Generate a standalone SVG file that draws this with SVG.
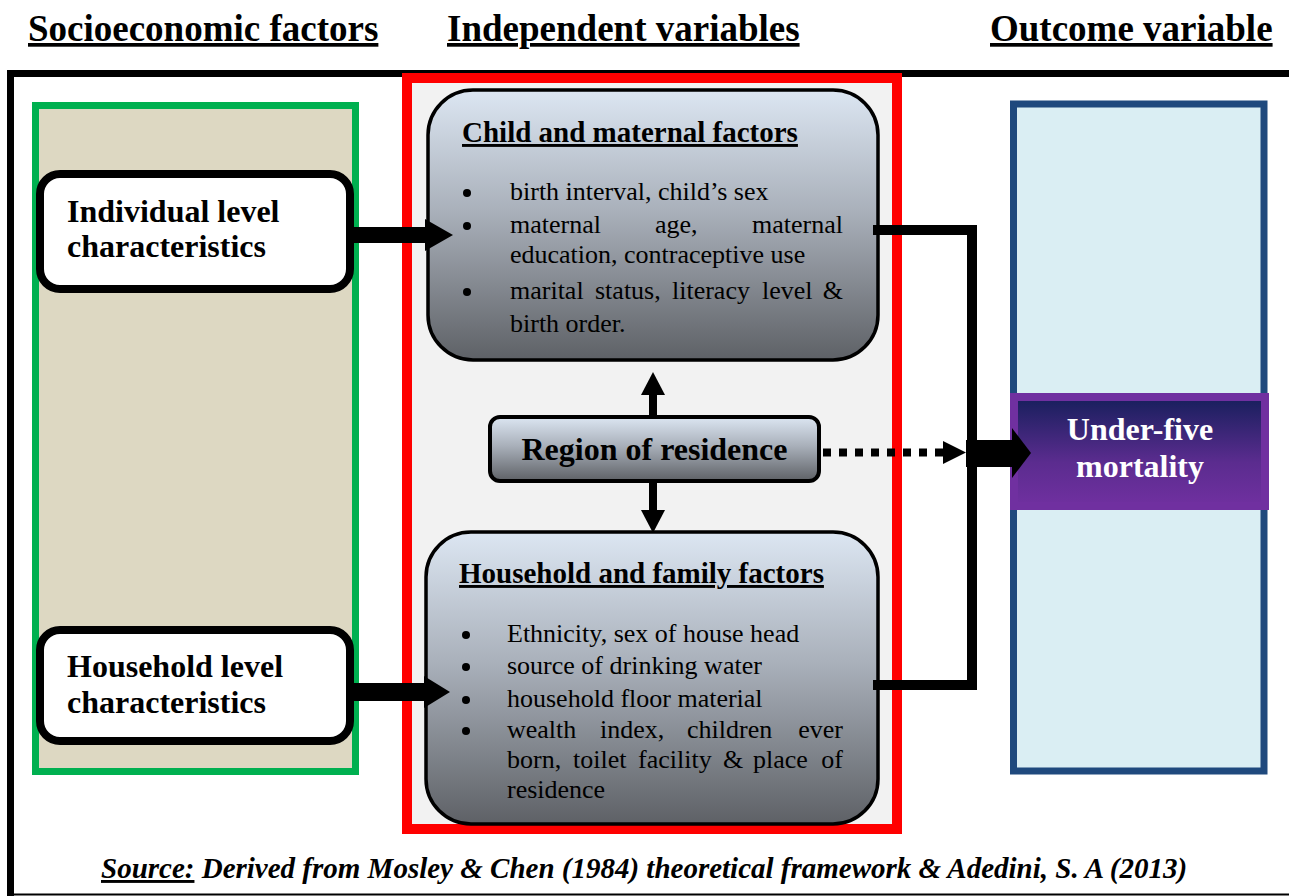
<svg xmlns="http://www.w3.org/2000/svg" width="1289" height="896" viewBox="0 0 1289 896">
<style>
.hdr{font-family:"Liberation Serif","Times New Roman",serif;font-weight:bold;font-size:37px;text-decoration:underline;fill:#000}
.lbl{font-family:"Liberation Serif","Times New Roman",serif;font-weight:bold;font-size:32px;fill:#000}
.ttl{font-family:"Liberation Serif","Times New Roman",serif;font-weight:bold;font-size:29px;text-decoration:underline;fill:#000}
.itm{font-family:"Liberation Serif","Times New Roman",serif;font-size:26px;fill:#000}
.src{font-family:"Liberation Serif","Times New Roman",serif;font-weight:bold;font-style:italic;font-size:29px;fill:#000}
.wh{fill:#fff}
.lvl{fill:#fff;stroke:#000;stroke-width:8}
.fac{fill:url(#grey);stroke:#000;stroke-width:3.5}
</style>
<defs>
<linearGradient id="grey" x1="0" y1="0" x2="0" y2="1">
<stop offset="0" stop-color="#dce6f2"/>
<stop offset="0.45" stop-color="#a9b0ba"/>
<stop offset="1" stop-color="#5e6166"/>
</linearGradient>
<linearGradient id="purp" x1="0" y1="0" x2="0" y2="1">
<stop offset="0" stop-color="#171f5c"/>
<stop offset="0.6" stop-color="#5b2c8f"/>
<stop offset="1" stop-color="#7030a0"/>
</linearGradient>
</defs>
<rect width="1289" height="896" fill="#fff"/>

<g id="headers">
<text class="hdr" x="28" y="41">Socioeconomic factors</text>
<text class="hdr" x="447" y="41">Independent variables</text>
<text class="hdr" x="990" y="41">Outcome variable</text>
</g>

<g id="frame">
<line x1="7" y1="73.5" x2="1289" y2="73.5" stroke="#000" stroke-width="7"/>
<line x1="10.5" y1="70" x2="10.5" y2="896" stroke="#000" stroke-width="7"/>
<line x1="7" y1="894.5" x2="1289" y2="894.5" stroke="#000" stroke-width="2"/>
</g>

<g id="socio-panel">
<rect x="35.5" y="105.5" width="320" height="666" fill="#ddd8c2" stroke="#00b050" stroke-width="7"/>
</g>
<g id="indep-panel">
<rect x="407" y="78" width="490" height="751" fill="#f2f2f2" stroke="#ff0000" stroke-width="10"/>
</g>
<g id="outcome-panel">
<rect x="1013.5" y="104" width="250.5" height="667" fill="#daeef3" stroke="#1f497d" stroke-width="7"/>
</g>

<g id="individual">
<rect class="lvl" x="40" y="174" width="310" height="115" rx="20"/>
<text class="lbl" x="67" y="222">Individual level</text>
<text class="lbl" x="67" y="257">characteristics</text>
</g>

<g id="household">
<rect class="lvl" x="40" y="630" width="310" height="111" rx="20"/>
<text class="lbl" x="67" y="677">Household level</text>
<text class="lbl" x="67" y="713">characteristics</text>
</g>

<g id="child-maternal">
<rect class="fac" x="428" y="90" width="450" height="270" rx="45"/>
<text class="ttl" x="462" y="142">Child and maternal factors</text>
<circle cx="467" cy="193" r="4"/>
<circle cx="467" cy="226" r="4"/>
<circle cx="467" cy="292" r="4"/>
<text class="itm" x="510" y="200">birth interval, child’s sex</text>
<text class="itm" x="510" y="233">maternal</text>
<text class="itm" x="655" y="233">age,</text>
<text class="itm" x="843" y="233" text-anchor="end">maternal</text>
<text class="itm" x="510" y="263">education, contraceptive use</text>
<text class="itm" x="510" y="299">marital</text>
<text class="itm" x="595" y="299">status,</text>
<text class="itm" x="672" y="299">literacy</text>
<text class="itm" x="762" y="299">level</text>
<text class="itm" x="843" y="299" text-anchor="end">&amp;</text>
<text class="itm" x="510" y="332">birth order.</text>
</g>

<g id="region">
<rect x="490" y="417" width="329" height="64" rx="10" fill="url(#grey)" stroke="#000" stroke-width="4"/>
<text class="lbl" x="654.5" y="460" text-anchor="middle">Region of residence</text>
</g>

<g id="household-family">
<rect class="fac" x="426" y="532" width="452" height="292" rx="45"/>
<text class="ttl" x="459" y="583">Household and family factors</text>
<circle cx="466" cy="635" r="4"/>
<circle cx="466" cy="667" r="4"/>
<circle cx="466" cy="700" r="4"/>
<circle cx="466" cy="731" r="4"/>
<text class="itm" x="507" y="642">Ethnicity, sex of house head</text>
<text class="itm" x="507" y="674">source of drinking water</text>
<text class="itm" x="507" y="707">household floor material</text>
<text class="itm" x="507" y="738">wealth</text>
<text class="itm" x="600" y="738">index,</text>
<text class="itm" x="687" y="738">children</text>
<text class="itm" x="843" y="738" text-anchor="end">ever</text>
<text class="itm" x="507" y="768">born,</text>
<text class="itm" x="573" y="768">toilet</text>
<text class="itm" x="638" y="768">facility</text>
<text class="itm" x="723" y="768">&amp;</text>
<text class="itm" x="753" y="768">place</text>
<text class="itm" x="843" y="768" text-anchor="end">of</text>
<text class="itm" x="507" y="798">residence</text>
</g>

<g id="under-five">
<rect x="1014" y="397" width="251" height="109" fill="url(#purp)" stroke="#7030a0" stroke-width="8"/>
<text class="lbl wh" x="1140" y="440" text-anchor="middle">Under-five</text>
<text class="lbl wh" x="1140" y="477" text-anchor="middle">mortality</text>
</g>

<g id="connectors">
<rect x="352" y="227" width="76" height="16" fill="#000"/>
<polygon points="425,219 453,235 425,251" fill="#000"/>
<rect x="352" y="683" width="76" height="18" fill="#000"/>
<polygon points="424,676 450,692 424,708" fill="#000"/>
<path d="M873,230 H972 V685 H873" fill="none" stroke="#000" stroke-width="10"/>
<rect x="966" y="440" width="48" height="27" fill="#000"/>
<polygon points="1012,428 1031,453 1012,478" fill="#000"/>
<line x1="823" y1="452.5" x2="943" y2="452.5" stroke="#000" stroke-width="8" stroke-dasharray="8,8"/>
<polygon points="943,441 966,452.5 943,464" fill="#000"/>
<line x1="653" y1="417" x2="653" y2="393" stroke="#000" stroke-width="8"/>
<polygon points="641,395 653,372 665,395" fill="#000"/>
<line x1="653" y1="481" x2="653" y2="512" stroke="#000" stroke-width="8"/>
<polygon points="641,510 653,533 665,510" fill="#000"/>
</g>

<g id="source">
<text class="src" x="101" y="878"><tspan text-decoration="underline">Source:</tspan> Derived from Mosley &amp; Chen (1984) theoretical framework &amp; Adedini, S. A (2013)</text>
</g>
</svg>
